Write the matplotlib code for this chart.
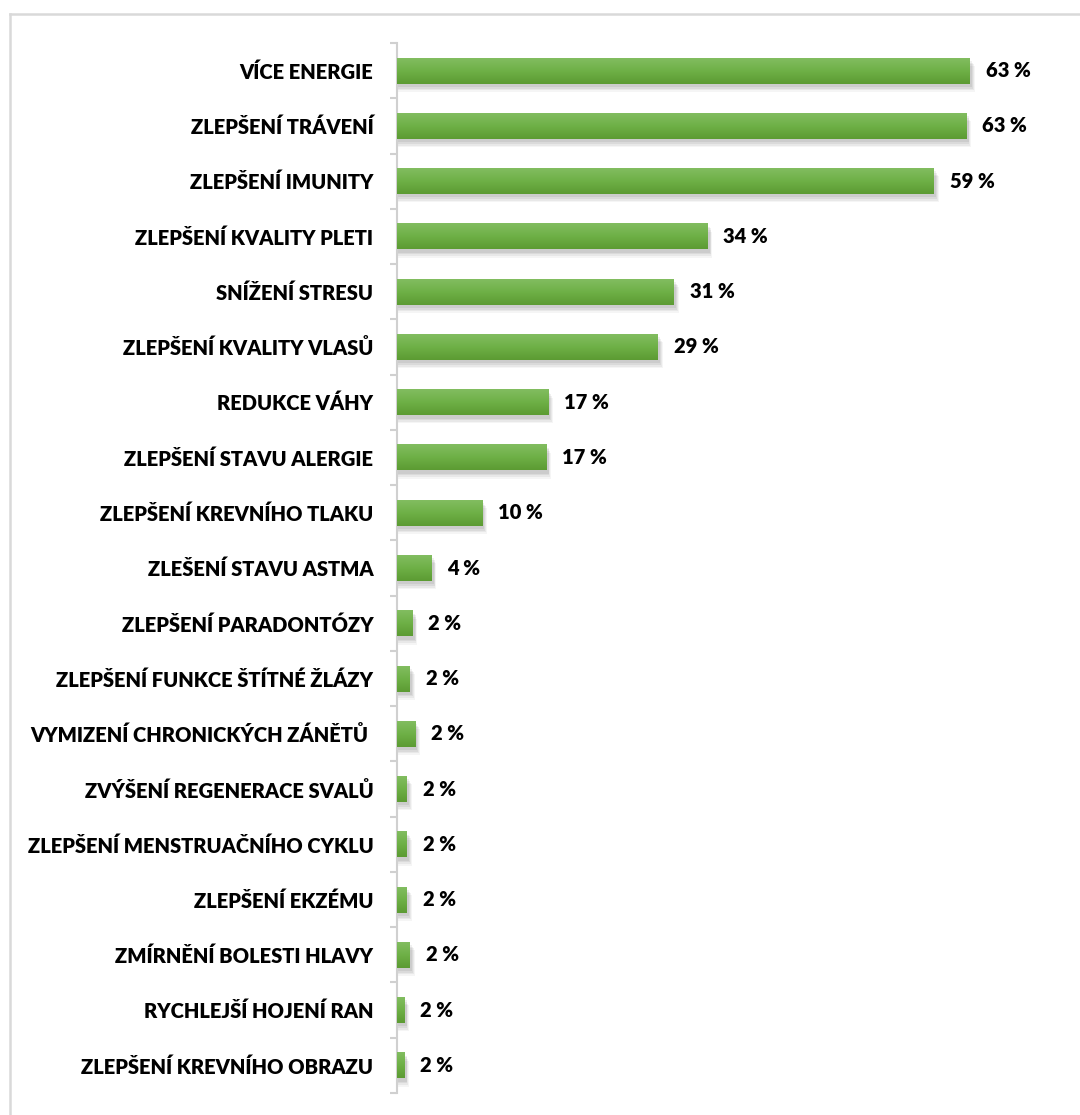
import matplotlib
matplotlib.use("Agg")
import matplotlib.pyplot as plt
import numpy as np
from matplotlib.patches import Rectangle
from matplotlib.colors import LinearSegmentedColormap
from matplotlib.lines import Line2D

categories = [
    "VÍCE ENERGIE",
    "ZLEPŠENÍ TRÁVENÍ",
    "ZLEPŠENÍ IMUNITY",
    "ZLEPŠENÍ KVALITY PLETI",
    "SNÍŽENÍ STRESU",
    "ZLEPŠENÍ KVALITY VLASŮ",
    "REDUKCE VÁHY",
    "ZLEPŠENÍ STAVU ALERGIE",
    "ZLEPŠENÍ KREVNÍHO TLAKU",
    "ZLEŠENÍ STAVU ASTMA",
    "ZLEPŠENÍ PARADONTÓZY",
    "ZLEPŠENÍ FUNKCE ŠTÍTNÉ ŽLÁZY",
    "VYMIZENÍ CHRONICKÝCH ZÁNĚTŮ ",
    "ZVÝŠENÍ REGENERACE SVALŮ",
    "ZLEPŠENÍ MENSTRUAČNÍHO CYKLU",
    "ZLEPŠENÍ EKZÉMU",
    "ZMÍRNĚNÍ BOLESTI HLAVY",
    "RYCHLEJŠÍ HOJENÍ RAN",
    "ZLEPŠENÍ KREVNÍHO OBRAZU",
]
# bar lengths as drawn (percent)
values = [63.3, 62.9, 59.3, 34.3, 30.6, 28.8, 16.7, 16.5, 9.4, 3.8,
          1.7, 1.4, 2.0, 1.1, 1.1, 1.1, 1.4, 0.8, 0.8]
# printed labels (percent)
labels_pct = [63, 63, 59, 34, 31, 29, 17, 17, 10, 4,
              2, 2, 2, 2, 2, 2, 2, 2, 2]

FONT = ["Lato", "DejaVu Sans"]
plt.rcParams["font.family"] = FONT
WEIGHT = "heavy"

W, H = 1080, 1115
fig = plt.figure(figsize=(W / 100, H / 100), dpi=100)
fig.patch.set_facecolor("white")

ax_left, ax_right = 397, 1062
ax_top, ax_bot = 43, 1093
ax = fig.add_axes([ax_left / W, 1 - ax_bot / H, (ax_right - ax_left) / W, (ax_bot - ax_top) / H])

px_per_unit = 9.05
xmax = (ax_right - ax_left) / px_per_unit
n = len(categories)

ypos = np.arange(n)
bar_h = 0.47

cmap = LinearSegmentedColormap.from_list("g", ["#82bd60", "#6eb046", "#5c9b33"])
grad = np.linspace(0, 1, 64).reshape(-1, 1)

# soft drop shadows
for y, v in zip(ypos, values):
    for k, a in enumerate([0.06, 0.06, 0.05, 0.04]):
        off = 0.06 + 0.03 * k
        ax.add_patch(Rectangle((0, y - bar_h / 2 + off), v + 0.25 + 0.1 * k, bar_h,
                               facecolor="black", alpha=a, edgecolor="none", zorder=1))

bars = ax.barh(ypos, values, height=bar_h, color="#6eb046", zorder=2)
for b in bars:
    x0, y0 = b.get_x(), b.get_y()
    w, h = b.get_width(), b.get_height()
    im = ax.imshow(grad, cmap=cmap, aspect="auto", extent=(x0, x0 + w, y0 + h, y0),
                   zorder=3, interpolation="bilinear")
    im.set_clip_path(b)

ax.set_xlim(0, xmax)
ax.set_ylim(n - 0.5, -0.5)

for y, v, lab in zip(ypos, values, labels_pct):
    ax.annotate(f"{lab} %", xy=(v, y), xytext=(11.5, 0), textcoords="offset points",
                va="center", ha="left", fontsize=14.5, fontweight=WEIGHT, color="black")

ax.set_yticks(ypos)
ax.set_yticklabels(categories, fontsize=14.5, fontweight=WEIGHT)
ax.set_yticks(np.arange(-0.5, n, 1.0), minor=True)
ax.tick_params(axis="y", which="major", length=0, pad=17)
ax.tick_params(axis="y", which="minor", length=5, width=1.5, color="#d0d0d0")
ax.set_xticks([])
for s in ["top", "right", "bottom"]:
    ax.spines[s].set_visible(False)
ax.spines["left"].set_color("#d0d0d0")
ax.spines["left"].set_linewidth(1.5)
ax.set_facecolor("none")

# outer frame (only top and left visible)
fig.add_artist(Line2D([9.5 / W, 9.5 / W], [0, 1 - 14 / H], transform=fig.transFigure,
                      color="#d9d9d9", lw=1.8))
fig.add_artist(Line2D([9.5 / W, 1], [1 - 14 / H, 1 - 14 / H], transform=fig.transFigure,
                      color="#d9d9d9", lw=1.8))

fig.savefig("out.png", dpi=100, facecolor="white")
